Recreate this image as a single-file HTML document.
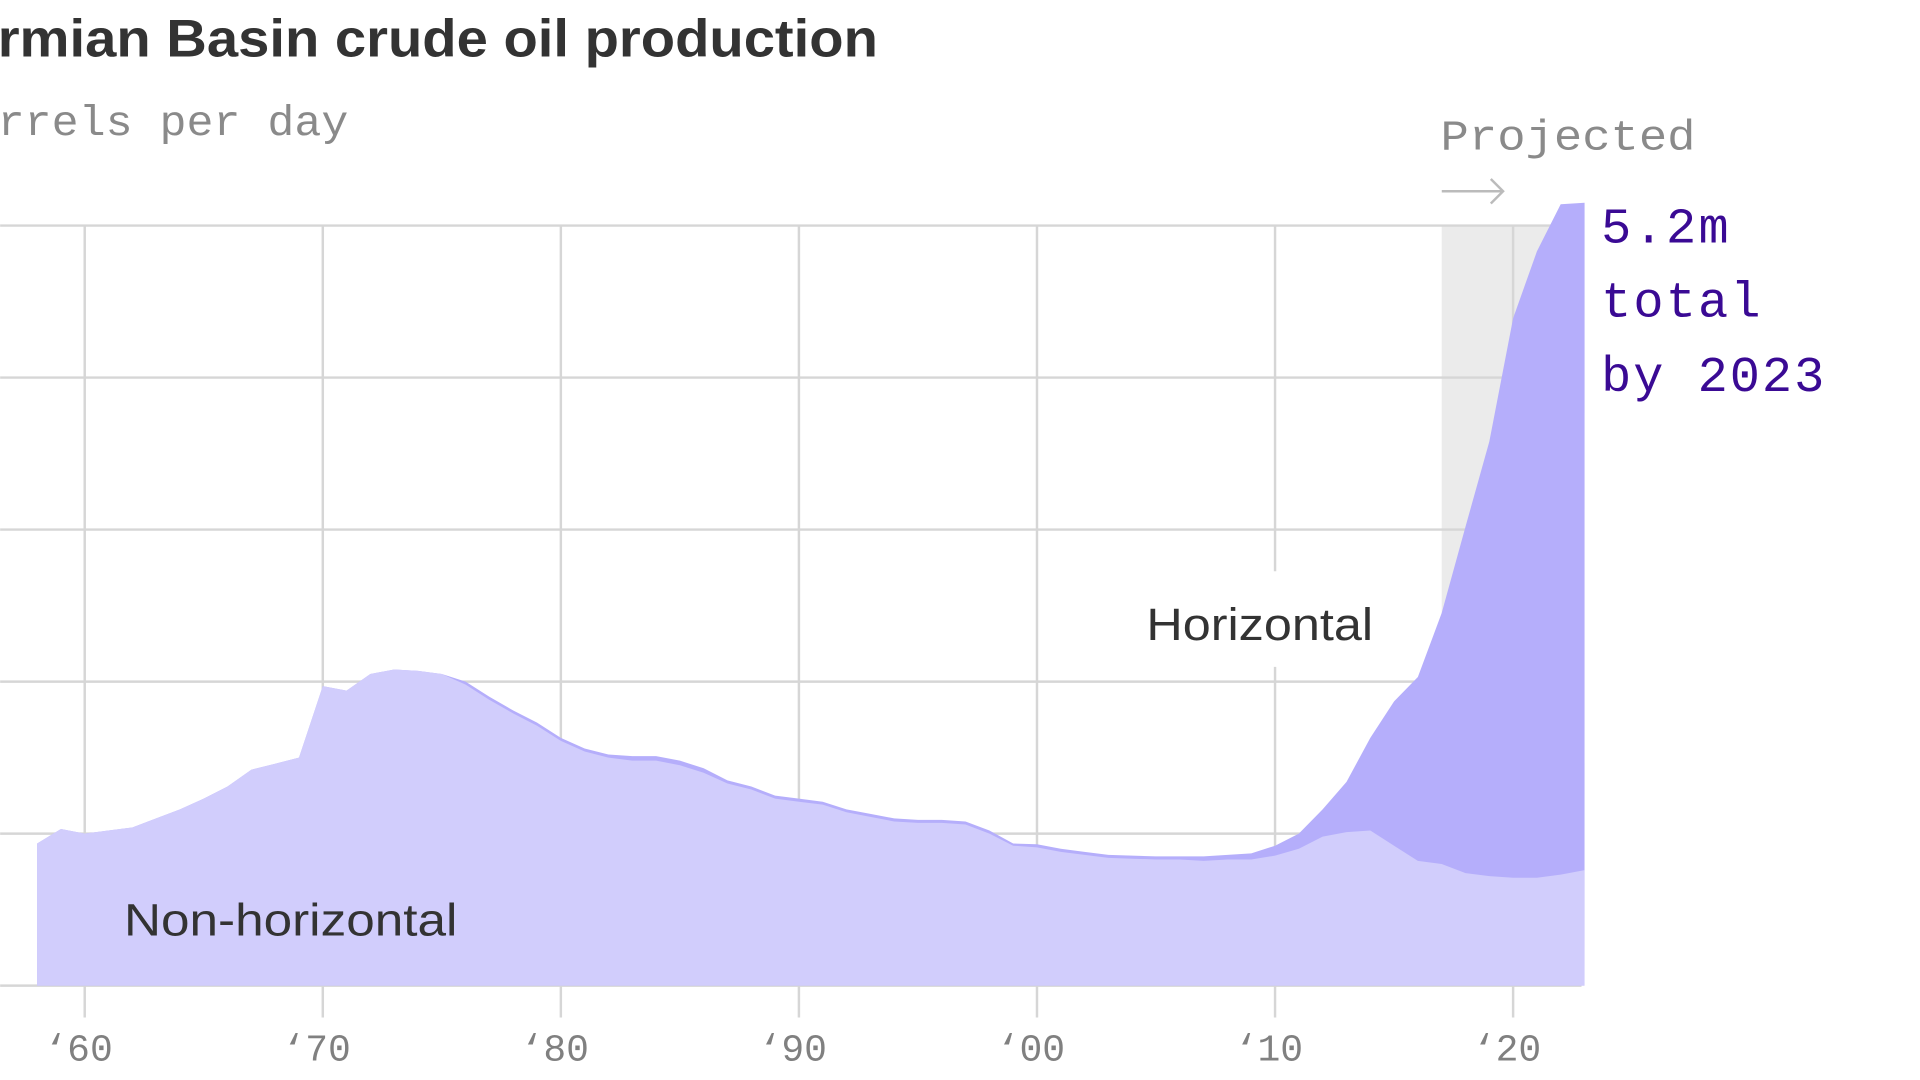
<!DOCTYPE html>
<html><head><meta charset="utf-8"><style>
html,body{margin:0;padding:0;background:#fff;width:1920px;height:1080px;overflow:hidden}
svg{display:block}
</style></head><body>
<svg id="chart" width="1920" height="1080" viewBox="0 0 1566 881" xmlns="http://www.w3.org/2000/svg">
<text x="-2" y="46" font-family="Liberation Sans, sans-serif" font-size="43" font-weight="bold" fill="#333" textLength="718" lengthAdjust="spacingAndGlyphs">rmian Basin crude oil production</text>
<text x="-2" y="110" font-family="Liberation Mono, monospace" font-size="35" fill="#8a8a8a" textLength="286" lengthAdjust="spacingAndGlyphs">rrels per day</text>
<g id="grid"></g>
<g id="areas"></g>
<g id="xaxis"></g>
<text x="1175" y="122" font-family="Liberation Mono, monospace" font-size="35" fill="#8a8a8a" textLength="208" lengthAdjust="spacingAndGlyphs">Projected</text>
<g stroke="#bbb" stroke-width="2" fill="none">
<line x1="1176" y1="156" x2="1226" y2="156"/><polyline points="1216,146 1226,156 1216,166"/></g>
<rect x="925" y="466" width="205" height="78" fill="#fff"/>
<text x="935" y="522" font-family="Liberation Sans, sans-serif" font-size="37" fill="#333" textLength="185" lengthAdjust="spacingAndGlyphs">Horizontal</text>
<text x="101" y="763" font-family="Liberation Sans, sans-serif" font-size="37" fill="#333" textLength="272" lengthAdjust="spacingAndGlyphs">Non-horizontal</text>
<g font-family="Liberation Mono, monospace" font-size="41" fill="#3a0a94">
<text x="1306" y="198" textLength="104">5.2m</text><text x="1306" y="258" textLength="130">total</text><text x="1306" y="319" textLength="182">by 2023</text></g>
</svg>
<script>
const years=[1958,1959,1960,1961,1962,1963,1964,1965,1966,1967,1968,1969,1970,1971,1972,1973,1974,1975,1976,1977,1978,1979,1980,1981,1982,1983,1984,1985,1986,1987,1988,1989,1990,1991,1992,1993,1994,1995,1996,1997,1998,1999,2000,2001,2002,2003,2004,2005,2006,2007,2008,2009,2010,2011,2012,2013,2014,2015,2016,2017,2018,2019,2020,2021,2022,2023];
const totalValues=[0.935,1.03,1.0,1.02,1.04,1.10,1.16,1.23,1.31,1.42,1.46,1.50,1.97,1.94,2.05,2.08,2.07,2.05,2.00,1.90,1.81,1.73,1.63,1.56,1.52,1.51,1.51,1.48,1.43,1.35,1.31,1.25,1.23,1.21,1.16,1.13,1.10,1.09,1.09,1.08,1.02,0.935,0.93,0.90,0.88,0.86,0.855,0.85,0.85,0.85,0.86,0.87,0.92,1.0,1.16,1.34,1.63,1.87,2.03,2.45,3.02,3.58,4.39,4.83,5.14,5.15];
const nonHorizontalValues=[0.935,1.03,1.0,1.02,1.04,1.10,1.16,1.23,1.31,1.42,1.46,1.50,1.97,1.94,2.05,2.08,2.07,2.05,1.98,1.88,1.79,1.71,1.61,1.54,1.50,1.48,1.48,1.45,1.40,1.33,1.29,1.23,1.21,1.19,1.14,1.11,1.08,1.07,1.07,1.06,1.00,0.92,0.91,0.88,0.86,0.84,0.835,0.83,0.83,0.82,0.83,0.83,0.855,0.90,0.98,1.01,1.02,0.92,0.82,0.80,0.74,0.72,0.71,0.71,0.73,0.76];
const yTicks=[0,1,2,3,4,5];
const xTickYears=[1960,1970,1980,1990,2000,2010,2020];
const xTickLabels=["\u201860","\u201870","\u201880","\u201890","\u201800","\u201810","\u201820"];
const projectedStart=2017;

const NS="http://www.w3.org/2000/svg";
const X0=69,PX_YEAR=19.42,Y0=804,PX_UNIT=124,RIGHT=1290;
const xs=y=>X0+(y-1960)*PX_YEAR;
const ys=v=>Y0-v*PX_UNIT;
function mk(tag,attrs,parent){const e=document.createElementNS(NS,tag);for(const k in attrs)e.setAttribute(k,attrs[k]);parent.appendChild(e);return e;}
const grid=document.getElementById('grid'),areas=document.getElementById('areas'),xaxis=document.getElementById('xaxis');
const ymax=yTicks[yTicks.length-1];
const shade=mk('rect',{x:xs(projectedStart),y:ys(ymax),width:RIGHT-xs(projectedStart),height:ys(0)-ys(ymax),fill:'#ebebeb'},grid);


yTicks.forEach(t=>{
  const l=mk('line',{x1:0,x2:RIGHT,y1:ys(t),y2:ys(t),stroke:'#d6d6d6','stroke-width':2},grid);
  
  
});
xTickYears.forEach((yr,i)=>{
  const l=mk('line',{x1:xs(yr),x2:xs(yr),y1:ys(ymax),y2:ys(0)+26,stroke:'#d6d6d6','stroke-width':2},grid);
  
  
  const t=mk('text',{x:xs(yr)-5,y:865,'text-anchor':'middle','font-family':'Liberation Mono, monospace','font-size':31,fill:'#808080'},xaxis);
  t.textContent=xTickLabels[i];
  
  
});
function areaPath(vals){
  let d='M'+xs(years[0])+','+ys(0);
  years.forEach((y,i)=>{d+=' L'+xs(y).toFixed(1)+','+ys(vals[i]).toFixed(1);});
  d+=' L'+xs(years[years.length-1])+','+ys(0)+' Z';return d;
}
const h=mk('path',{d:areaPath(totalValues),fill:'#b5aefb'},areas);


const n=mk('path',{d:areaPath(nonHorizontalValues),fill:'#d1cdfc'},areas);


</script>
</body></html>
